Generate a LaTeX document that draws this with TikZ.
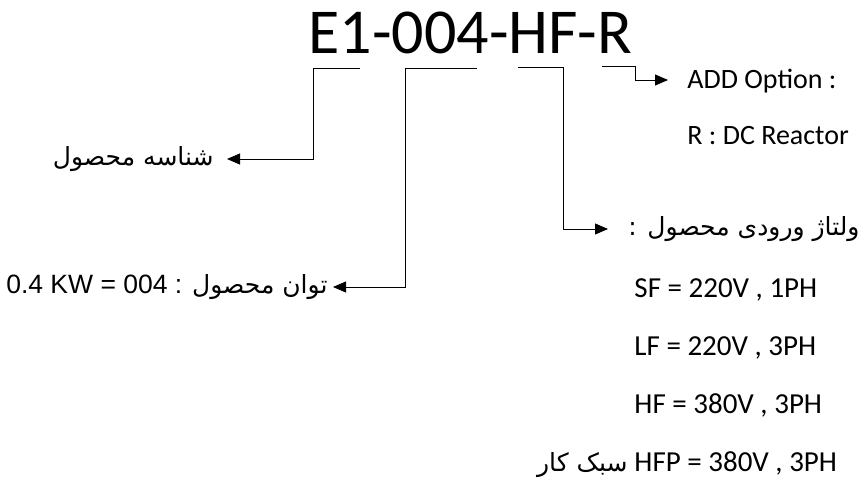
\documentclass[tikz,border=0pt]{standalone}
\usepackage{fontspec}
\setmainfont{Carlito}
\newfontfamily\arabicfont[Script=Arabic]{DejaVu Sans}
\newfontfamily\arialfont{Liberation Sans}
\TeXXeTstate=1
\usetikzlibrary{arrows.meta}

\begin{document}
\begin{tikzpicture}[x=1pt, y=-1pt, line width=0.9pt,
  >={Triangle[length=13pt,width=11pt]},
  lbl/.style={inner sep=0pt, text height=18pt, text depth=0pt,
    font=\fontsize{28}{28}\selectfont},
  item/.style={inner sep=0pt, font=\fontsize{29}{29}\selectfont},
  fa/.style={inner sep=0pt, font=\arabicfont\fontsize{25}{25}\selectfont}]
\useasboundingbox (0,0) rectangle (861,481);

% product code
\node[inner sep=0pt, anchor=base west, font=\fontsize{64}{64}\selectfont] (code) at (308,54) {E1-004-HF-R};

% marks under the parts of the code
\coordinate (e1r) at (360,68);
\coordinate (e1l) at (313,68);
\coordinate (pwr) at (477,68);
\coordinate (pwl) at (405,68);
\coordinate (hfl) at (518,67);
\coordinate (hfr) at (563,67);
\coordinate (optl) at (602,66);
\coordinate (optr) at (635,66);

% labels
\node[fa, anchor=east, inner xsep=13pt] (name) at (227,159) {\beginR شناسه محصول\endR};
\node[fa, anchor=east, inner xsep=5pt] (power) at (333,287)
  {{\arialfont\fontsize{26.5}{26.5}\selectfont 0.4 KW = 004 : }\beginR توان محصول\endR};
\node[fa, anchor=west, inner xsep=20pt] (volt) at (608,229) {: \beginR ولتاژ ورودی محصول\endR};
\node[lbl, anchor=west, inner xsep=19pt] (opt) at (668,80) {ADD Option :};
\node[lbl, anchor=base west] (reac) at (687,145) {R : DC Reactor};

% input voltage list
\node[item, anchor=base west] (sf) at (634,297) {SF = 220V , 1PH};
\node[item, anchor=base west] (lf) at (634,355) {LF = 220V , 3PH};
\node[item, anchor=base west] (hf) at (634,413) {HF = 380V , 3PH};
\node[item, anchor=base west] (hfp) at (634,471) {HFP = 380V , 3PH};
\node[fa, anchor=base east] (light) at ([xshift=-6pt]hfp.base west) {\beginR سبک کار\endR};

% connectors
\draw[->] (e1r) -- (e1l) |- (name.east);
\draw[->] (pwr) -- (pwl) |- (power.east);
\draw[->] (hfl) -- (hfr) |- (volt.west);
\draw[->] (optl) -- (optr) |- (opt.west);
\end{tikzpicture}
\end{document}
